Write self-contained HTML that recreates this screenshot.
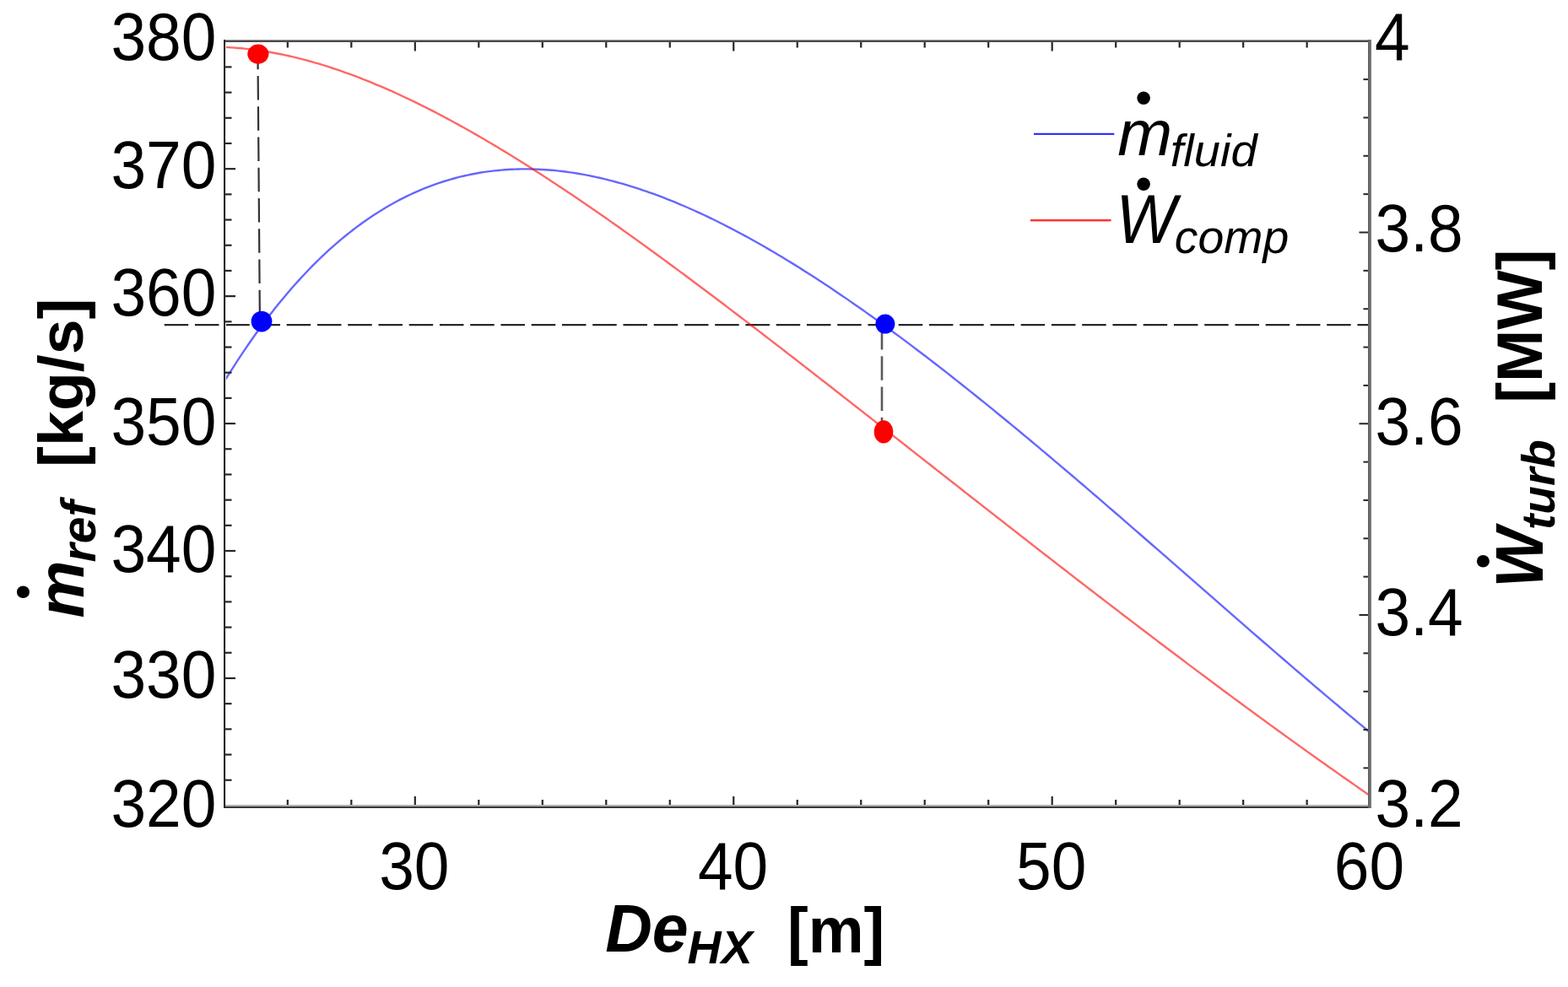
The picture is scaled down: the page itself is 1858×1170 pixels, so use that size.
<!DOCTYPE html>
<html><head><meta charset="utf-8"><title>Plot</title>
<style>
html,body{margin:0;padding:0;background:#fff;}
body{width:1858px;height:1170px;overflow:hidden;}
svg{display:block;}
text{font-family:'Liberation Sans', Arial, Helvetica, sans-serif;fill:#000;}
</style></head><body>
<svg width="1858" height="1170" viewBox="0 0 1858 1170">
<rect x="0" y="0" width="1858" height="1170" fill="#fff"/>

<g fill="none" stroke-dasharray="28.5 7.75">
<line x1="194.7" y1="385" x2="1622" y2="385" stroke="#262626" stroke-width="2"/>
<line x1="194.7" y1="386.5" x2="1622" y2="386.5" stroke="#cccccc" stroke-width="1"/>
<line x1="305.4" y1="53.7" x2="307.9" y2="381" stroke="#333" stroke-width="2.2"/>
<line x1="1045" y1="385.9" x2="1045" y2="512" stroke="#5a5a5a" stroke-width="2.6"/>
</g>
<path d="M266.0,451.98 L270.0,445.49 L274.0,439.11 L278.0,432.83 L282.0,426.65 L286.0,420.58 L290.0,414.61 L294.0,408.74 L298.0,402.97 L302.0,397.30 L306.0,391.74 L310.0,386.27 L314.0,380.89 L318.0,375.62 L322.0,370.43 L326.0,365.35 L330.0,360.36 L334.0,355.46 L338.0,350.65 L342.0,345.94 L346.0,341.31 L350.0,336.78 L354.0,332.33 L358.0,327.98 L362.0,323.71 L366.0,319.52 L370.0,315.43 L374.0,311.41 L378.0,307.49 L382.0,303.64 L386.0,299.88 L390.0,296.21 L394.0,292.61 L398.0,289.09 L402.0,285.66 L406.0,282.30 L410.0,279.02 L414.0,275.82 L418.0,272.70 L422.0,269.65 L426.0,266.68 L430.0,263.78 L434.0,260.96 L438.0,258.21 L442.0,255.53 L446.0,252.93 L450.0,250.40 L454.0,247.94 L458.0,245.54 L462.0,243.22 L466.0,240.97 L470.0,238.78 L474.0,236.67 L478.0,234.62 L482.0,232.63 L486.0,230.72 L490.0,228.86 L494.0,227.07 L498.0,225.35 L502.0,223.69 L506.0,222.09 L510.0,220.55 L514.0,219.08 L518.0,217.66 L522.0,216.31 L526.0,215.01 L530.0,213.78 L534.0,212.60 L538.0,211.48 L542.0,210.42 L546.0,209.41 L550.0,208.46 L554.0,207.57 L558.0,206.73 L562.0,205.95 L566.0,205.22 L570.0,204.54 L574.0,203.92 L578.0,203.35 L582.0,202.83 L586.0,202.36 L590.0,201.95 L594.0,201.58 L598.0,201.26 L602.0,201.00 L606.0,200.78 L610.0,200.61 L614.0,200.49 L618.0,200.41 L622.0,200.38 L626.0,200.40 L630.0,200.47 L634.0,200.58 L638.0,200.73 L642.0,200.93 L646.0,201.18 L650.0,201.47 L654.0,201.80 L658.0,202.17 L662.0,202.59 L666.0,203.04 L670.0,203.54 L674.0,204.08 L678.0,204.67 L682.0,205.29 L686.0,205.95 L690.0,206.65 L694.0,207.39 L698.0,208.16 L702.0,208.98 L706.0,209.83 L710.0,210.72 L714.0,211.65 L718.0,212.61 L722.0,213.61 L726.0,214.65 L730.0,215.72 L734.0,216.83 L738.0,217.97 L742.0,219.14 L746.0,220.35 L750.0,221.59 L754.0,222.87 L758.0,224.18 L762.0,225.52 L766.0,226.89 L770.0,228.29 L774.0,229.73 L778.0,231.19 L782.0,232.69 L786.0,234.22 L790.0,235.77 L794.0,237.36 L798.0,238.98 L802.0,240.62 L806.0,242.29 L810.0,244.00 L814.0,245.73 L818.0,247.48 L822.0,249.27 L826.0,251.08 L830.0,252.92 L834.0,254.78 L838.0,256.68 L842.0,258.59 L846.0,260.54 L850.0,262.50 L854.0,264.50 L858.0,266.51 L862.0,268.56 L866.0,270.62 L870.0,272.71 L874.0,274.83 L878.0,276.96 L882.0,279.12 L886.0,281.31 L890.0,283.51 L894.0,285.74 L898.0,287.99 L902.0,290.26 L906.0,292.55 L910.0,294.87 L914.0,297.20 L918.0,299.56 L922.0,301.93 L926.0,304.33 L930.0,306.75 L934.0,309.18 L938.0,311.64 L942.0,314.11 L946.0,316.60 L950.0,319.12 L954.0,321.65 L958.0,324.20 L962.0,326.76 L966.0,329.35 L970.0,331.95 L974.0,334.57 L978.0,337.21 L982.0,339.86 L986.0,342.54 L990.0,345.22 L994.0,347.93 L998.0,350.65 L1002.0,353.38 L1006.0,356.13 L1010.0,358.90 L1014.0,361.68 L1018.0,364.48 L1022.0,367.30 L1026.0,370.12 L1030.0,372.96 L1034.0,375.82 L1038.0,378.69 L1042.0,381.58 L1046.0,384.47 L1050.0,387.39 L1054.0,390.31 L1058.0,393.25 L1062.0,396.20 L1066.0,399.16 L1070.0,402.14 L1074.0,405.13 L1078.0,408.13 L1082.0,411.15 L1086.0,414.17 L1090.0,417.21 L1094.0,420.26 L1098.0,423.32 L1102.0,426.39 L1106.0,429.47 L1110.0,432.57 L1114.0,435.67 L1118.0,438.79 L1122.0,441.91 L1126.0,445.05 L1130.0,448.20 L1134.0,451.35 L1138.0,454.52 L1142.0,457.70 L1146.0,460.88 L1150.0,464.08 L1154.0,467.28 L1158.0,470.49 L1162.0,473.71 L1166.0,476.94 L1170.0,480.18 L1174.0,483.43 L1178.0,486.69 L1182.0,489.95 L1186.0,493.22 L1190.0,496.50 L1194.0,499.79 L1198.0,503.09 L1202.0,506.39 L1206.0,509.70 L1210.0,513.01 L1214.0,516.34 L1218.0,519.67 L1222.0,523.01 L1226.0,526.35 L1230.0,529.70 L1234.0,533.06 L1238.0,536.42 L1242.0,539.79 L1246.0,543.17 L1250.0,546.55 L1254.0,549.93 L1258.0,553.32 L1262.0,556.72 L1266.0,560.12 L1270.0,563.53 L1274.0,566.94 L1278.0,570.36 L1282.0,573.78 L1286.0,577.21 L1290.0,580.64 L1294.0,584.07 L1298.0,587.51 L1302.0,590.95 L1306.0,594.40 L1310.0,597.85 L1314.0,601.31 L1318.0,604.76 L1322.0,608.22 L1326.0,611.69 L1330.0,615.16 L1334.0,618.63 L1338.0,622.10 L1342.0,625.57 L1346.0,629.05 L1350.0,632.53 L1354.0,636.01 L1358.0,639.50 L1362.0,642.99 L1366.0,646.47 L1370.0,649.96 L1374.0,653.46 L1378.0,656.95 L1382.0,660.44 L1386.0,663.94 L1390.0,667.44 L1394.0,670.93 L1398.0,674.43 L1402.0,677.93 L1406.0,681.43 L1410.0,684.93 L1414.0,688.43 L1418.0,691.93 L1422.0,695.43 L1426.0,698.93 L1430.0,702.43 L1434.0,705.93 L1438.0,709.43 L1442.0,712.92 L1446.0,716.42 L1450.0,719.92 L1454.0,723.41 L1458.0,726.90 L1462.0,730.40 L1466.0,733.89 L1470.0,737.37 L1474.0,740.86 L1478.0,744.34 L1482.0,747.83 L1486.0,751.30 L1490.0,754.78 L1494.0,758.26 L1498.0,761.73 L1502.0,765.19 L1506.0,768.66 L1510.0,772.12 L1514.0,775.58 L1518.0,779.03 L1522.0,782.48 L1526.0,785.93 L1530.0,789.37 L1534.0,792.81 L1538.0,796.25 L1542.0,799.68 L1546.0,803.10 L1550.0,806.52 L1554.0,809.93 L1558.0,813.34 L1562.0,816.75 L1566.0,820.14 L1570.0,823.54 L1574.0,826.92 L1578.0,830.30 L1582.0,833.68 L1586.0,837.04 L1590.0,840.40 L1594.0,843.76 L1598.0,847.10 L1602.0,850.44 L1606.0,853.77 L1610.0,857.10 L1614.0,860.41 L1618.0,863.72 L1622.0,867.02 L1623.0,867.84" fill="none" stroke="#0000ff" stroke-width="2.4" stroke-opacity="0.6"/>
<path d="M266.0,55.94 L270.0,56.13 L274.0,56.35 L278.0,56.62 L282.0,56.93 L286.0,57.29 L290.0,57.68 L294.0,58.11 L298.0,58.59 L302.0,59.10 L306.0,59.65 L310.0,60.24 L314.0,60.86 L318.0,61.53 L322.0,62.23 L326.0,62.97 L330.0,63.74 L334.0,64.55 L338.0,65.40 L342.0,66.28 L346.0,67.20 L350.0,68.15 L354.0,69.13 L358.0,70.15 L362.0,71.20 L366.0,72.28 L370.0,73.40 L374.0,74.54 L378.0,75.72 L382.0,76.94 L386.0,78.18 L390.0,79.45 L394.0,80.75 L398.0,82.08 L402.0,83.45 L406.0,84.84 L410.0,86.26 L414.0,87.70 L418.0,89.18 L422.0,90.68 L426.0,92.21 L430.0,93.77 L434.0,95.36 L438.0,96.97 L442.0,98.61 L446.0,100.27 L450.0,101.96 L454.0,103.67 L458.0,105.41 L462.0,107.18 L466.0,108.96 L470.0,110.77 L474.0,112.61 L478.0,114.47 L482.0,116.35 L486.0,118.25 L490.0,120.18 L494.0,122.13 L498.0,124.10 L502.0,126.09 L506.0,128.10 L510.0,130.14 L514.0,132.19 L518.0,134.27 L522.0,136.36 L526.0,138.48 L530.0,140.61 L534.0,142.76 L538.0,144.94 L542.0,147.13 L546.0,149.34 L550.0,151.57 L554.0,153.81 L558.0,156.08 L562.0,158.36 L566.0,160.66 L570.0,162.98 L574.0,165.31 L578.0,167.66 L582.0,170.02 L586.0,172.40 L590.0,174.80 L594.0,177.22 L598.0,179.64 L602.0,182.09 L606.0,184.55 L610.0,187.02 L614.0,189.51 L618.0,192.01 L622.0,194.52 L626.0,197.05 L630.0,199.60 L634.0,202.15 L638.0,204.72 L642.0,207.31 L646.0,209.90 L650.0,212.51 L654.0,215.13 L658.0,217.76 L662.0,220.41 L666.0,223.06 L670.0,225.73 L674.0,228.41 L678.0,231.10 L682.0,233.80 L686.0,236.52 L690.0,239.24 L694.0,241.97 L698.0,244.72 L702.0,247.47 L706.0,250.23 L710.0,253.01 L714.0,255.79 L718.0,258.58 L722.0,261.39 L726.0,264.20 L730.0,267.02 L734.0,269.85 L738.0,272.68 L742.0,275.53 L746.0,278.38 L750.0,281.24 L754.0,284.11 L758.0,286.99 L762.0,289.88 L766.0,292.77 L770.0,295.67 L774.0,298.58 L778.0,301.50 L782.0,304.42 L786.0,307.35 L790.0,310.28 L794.0,313.22 L798.0,316.17 L802.0,319.13 L806.0,322.09 L810.0,325.05 L814.0,328.03 L818.0,331.00 L822.0,333.99 L826.0,336.98 L830.0,339.97 L834.0,342.97 L838.0,345.98 L842.0,348.99 L846.0,352.00 L850.0,355.02 L854.0,358.05 L858.0,361.08 L862.0,364.11 L866.0,367.15 L870.0,370.19 L874.0,373.24 L878.0,376.29 L882.0,379.34 L886.0,382.40 L890.0,385.46 L894.0,388.53 L898.0,391.60 L902.0,394.67 L906.0,397.75 L910.0,400.83 L914.0,403.91 L918.0,406.99 L922.0,410.08 L926.0,413.17 L930.0,416.27 L934.0,419.36 L938.0,422.46 L942.0,425.56 L946.0,428.67 L950.0,431.77 L954.0,434.88 L958.0,437.99 L962.0,441.10 L966.0,444.22 L970.0,447.33 L974.0,450.45 L978.0,453.57 L982.0,456.70 L986.0,459.82 L990.0,462.94 L994.0,466.07 L998.0,469.20 L1002.0,472.33 L1006.0,475.46 L1010.0,478.59 L1014.0,481.72 L1018.0,484.86 L1022.0,487.99 L1026.0,491.13 L1030.0,494.26 L1034.0,497.40 L1038.0,500.54 L1042.0,503.68 L1046.0,506.82 L1050.0,509.96 L1054.0,513.10 L1058.0,516.24 L1062.0,519.38 L1066.0,522.52 L1070.0,525.66 L1074.0,528.81 L1078.0,531.95 L1082.0,535.09 L1086.0,538.23 L1090.0,541.38 L1094.0,544.52 L1098.0,547.66 L1102.0,550.80 L1106.0,553.94 L1110.0,557.09 L1114.0,560.23 L1118.0,563.37 L1122.0,566.51 L1126.0,569.65 L1130.0,572.79 L1134.0,575.93 L1138.0,579.06 L1142.0,582.20 L1146.0,585.34 L1150.0,588.48 L1154.0,591.61 L1158.0,594.75 L1162.0,597.88 L1166.0,601.01 L1170.0,604.14 L1174.0,607.27 L1178.0,610.40 L1182.0,613.53 L1186.0,616.66 L1190.0,619.79 L1194.0,622.91 L1198.0,626.04 L1202.0,629.16 L1206.0,632.28 L1210.0,635.40 L1214.0,638.52 L1218.0,641.64 L1222.0,644.75 L1226.0,647.87 L1230.0,650.98 L1234.0,654.09 L1238.0,657.20 L1242.0,660.31 L1246.0,663.41 L1250.0,666.52 L1254.0,669.62 L1258.0,672.72 L1262.0,675.82 L1266.0,678.92 L1270.0,682.01 L1274.0,685.10 L1278.0,688.20 L1282.0,691.28 L1286.0,694.37 L1290.0,697.46 L1294.0,700.54 L1298.0,703.62 L1302.0,706.70 L1306.0,709.77 L1310.0,712.85 L1314.0,715.92 L1318.0,718.99 L1322.0,722.05 L1326.0,725.12 L1330.0,728.18 L1334.0,731.24 L1338.0,734.30 L1342.0,737.35 L1346.0,740.40 L1350.0,743.45 L1354.0,746.50 L1358.0,749.54 L1362.0,752.58 L1366.0,755.62 L1370.0,758.66 L1374.0,761.69 L1378.0,764.72 L1382.0,767.74 L1386.0,770.77 L1390.0,773.79 L1394.0,776.80 L1398.0,779.82 L1402.0,782.83 L1406.0,785.84 L1410.0,788.84 L1414.0,791.84 L1418.0,794.84 L1422.0,797.84 L1426.0,800.83 L1430.0,803.81 L1434.0,806.80 L1438.0,809.78 L1442.0,812.76 L1446.0,815.73 L1450.0,818.70 L1454.0,821.67 L1458.0,824.63 L1462.0,827.59 L1466.0,830.54 L1470.0,833.49 L1474.0,836.44 L1478.0,839.38 L1482.0,842.32 L1486.0,845.26 L1490.0,848.19 L1494.0,851.11 L1498.0,854.04 L1502.0,856.95 L1506.0,859.87 L1510.0,862.78 L1514.0,865.68 L1518.0,868.58 L1522.0,871.48 L1526.0,874.37 L1530.0,877.25 L1534.0,880.13 L1538.0,883.01 L1542.0,885.88 L1546.0,888.75 L1550.0,891.61 L1554.0,894.47 L1558.0,897.32 L1562.0,900.17 L1566.0,903.01 L1570.0,905.84 L1574.0,908.67 L1578.0,911.50 L1582.0,914.32 L1586.0,917.13 L1590.0,919.94 L1594.0,922.74 L1598.0,925.54 L1602.0,928.33 L1606.0,931.12 L1610.0,933.90 L1614.0,936.67 L1618.0,939.44 L1622.0,942.20 L1623.0,942.89" fill="none" stroke="#ff0000" stroke-width="2.4" stroke-opacity="0.6"/>
<rect x="265" y="47" width="1358" height="1" fill="#999"/>
<rect x="265" y="48" width="1358" height="2" fill="#4a4a4a"/>
<rect x="265" y="954" width="1358" height="2" fill="#b0b0b0"/>
<rect x="265" y="956" width="1360" height="2" fill="#383838"/>
<rect x="265" y="47" width="2" height="911" fill="#262626"/>
<rect x="267" y="50" width="1" height="904" fill="#ececec"/>
<rect x="1621" y="47" width="2" height="911" fill="#646464"/>
<rect x="1623" y="47" width="2" height="911" fill="#787878"/>
<g stroke="#262626" stroke-width="2.2" fill="none">
<line x1="340.82" y1="954" x2="340.82" y2="948"/>
<line x1="340.82" y1="50" x2="340.82" y2="56.5"/>
<line x1="416.31" y1="954" x2="416.31" y2="948"/>
<line x1="416.31" y1="50" x2="416.31" y2="56.5"/>
<line x1="491.80" y1="954" x2="491.80" y2="944"/>
<line x1="491.80" y1="50" x2="491.80" y2="60.5"/>
<line x1="567.29" y1="954" x2="567.29" y2="948"/>
<line x1="567.29" y1="50" x2="567.29" y2="56.5"/>
<line x1="642.78" y1="954" x2="642.78" y2="948"/>
<line x1="642.78" y1="50" x2="642.78" y2="56.5"/>
<line x1="718.27" y1="954" x2="718.27" y2="948"/>
<line x1="718.27" y1="50" x2="718.27" y2="56.5"/>
<line x1="793.76" y1="954" x2="793.76" y2="948"/>
<line x1="793.76" y1="50" x2="793.76" y2="56.5"/>
<line x1="869.25" y1="954" x2="869.25" y2="944"/>
<line x1="869.25" y1="50" x2="869.25" y2="60.5"/>
<line x1="944.74" y1="954" x2="944.74" y2="948"/>
<line x1="944.74" y1="50" x2="944.74" y2="56.5"/>
<line x1="1020.23" y1="954" x2="1020.23" y2="948"/>
<line x1="1020.23" y1="50" x2="1020.23" y2="56.5"/>
<line x1="1095.72" y1="954" x2="1095.72" y2="948"/>
<line x1="1095.72" y1="50" x2="1095.72" y2="56.5"/>
<line x1="1171.21" y1="954" x2="1171.21" y2="948"/>
<line x1="1171.21" y1="50" x2="1171.21" y2="56.5"/>
<line x1="1246.70" y1="954" x2="1246.70" y2="944"/>
<line x1="1246.70" y1="50" x2="1246.70" y2="60.5"/>
<line x1="1322.19" y1="954" x2="1322.19" y2="948"/>
<line x1="1322.19" y1="50" x2="1322.19" y2="56.5"/>
<line x1="1397.68" y1="954" x2="1397.68" y2="948"/>
<line x1="1397.68" y1="50" x2="1397.68" y2="56.5"/>
<line x1="1473.17" y1="954" x2="1473.17" y2="948"/>
<line x1="1473.17" y1="50" x2="1473.17" y2="56.5"/>
<line x1="1548.66" y1="954" x2="1548.66" y2="948"/>
<line x1="1548.66" y1="50" x2="1548.66" y2="56.5"/>
<line x1="267" y1="924.73" x2="274.5" y2="924.73"/>
<line x1="267" y1="894.54" x2="274.5" y2="894.54"/>
<line x1="267" y1="864.35" x2="274.5" y2="864.35"/>
<line x1="267" y1="834.16" x2="274.5" y2="834.16"/>
<line x1="267" y1="803.97" x2="279" y2="803.97"/>
<line x1="267" y1="773.78" x2="274.5" y2="773.78"/>
<line x1="267" y1="743.59" x2="274.5" y2="743.59"/>
<line x1="267" y1="713.40" x2="274.5" y2="713.40"/>
<line x1="267" y1="683.21" x2="274.5" y2="683.21"/>
<line x1="267" y1="653.02" x2="279" y2="653.02"/>
<line x1="267" y1="622.83" x2="274.5" y2="622.83"/>
<line x1="267" y1="592.64" x2="274.5" y2="592.64"/>
<line x1="267" y1="562.45" x2="274.5" y2="562.45"/>
<line x1="267" y1="532.26" x2="274.5" y2="532.26"/>
<line x1="267" y1="502.07" x2="279" y2="502.07"/>
<line x1="267" y1="471.88" x2="274.5" y2="471.88"/>
<line x1="267" y1="441.69" x2="274.5" y2="441.69"/>
<line x1="267" y1="411.50" x2="274.5" y2="411.50"/>
<line x1="267" y1="381.31" x2="274.5" y2="381.31"/>
<line x1="267" y1="351.12" x2="279" y2="351.12"/>
<line x1="267" y1="320.93" x2="274.5" y2="320.93"/>
<line x1="267" y1="290.74" x2="274.5" y2="290.74"/>
<line x1="267" y1="260.55" x2="274.5" y2="260.55"/>
<line x1="267" y1="230.36" x2="274.5" y2="230.36"/>
<line x1="267" y1="200.17" x2="279" y2="200.17"/>
<line x1="267" y1="169.98" x2="274.5" y2="169.98"/>
<line x1="267" y1="139.79" x2="274.5" y2="139.79"/>
<line x1="267" y1="109.60" x2="274.5" y2="109.60"/>
<line x1="267" y1="79.41" x2="274.5" y2="79.41"/>
</g>
<g stroke="#262626" stroke-width="2" fill="none">
<line x1="1621" y1="94.10" x2="1615.5" y2="94.10"/>
<line x1="1621" y1="139.45" x2="1615.5" y2="139.45"/>
<line x1="1621" y1="184.80" x2="1615.5" y2="184.80"/>
<line x1="1621" y1="230.15" x2="1615.5" y2="230.15"/>
<line x1="1621" y1="275.50" x2="1610.5" y2="275.50"/>
<line x1="1621" y1="320.85" x2="1615.5" y2="320.85"/>
<line x1="1621" y1="366.20" x2="1615.5" y2="366.20"/>
<line x1="1621" y1="411.55" x2="1615.5" y2="411.55"/>
<line x1="1621" y1="456.90" x2="1615.5" y2="456.90"/>
<line x1="1621" y1="502.25" x2="1610.5" y2="502.25"/>
<line x1="1621" y1="547.60" x2="1615.5" y2="547.60"/>
<line x1="1621" y1="592.95" x2="1615.5" y2="592.95"/>
<line x1="1621" y1="638.30" x2="1615.5" y2="638.30"/>
<line x1="1621" y1="683.65" x2="1615.5" y2="683.65"/>
<line x1="1621" y1="729.00" x2="1610.5" y2="729.00"/>
<line x1="1621" y1="774.35" x2="1615.5" y2="774.35"/>
<line x1="1621" y1="819.70" x2="1615.5" y2="819.70"/>
<line x1="1621" y1="865.05" x2="1615.5" y2="865.05"/>
<line x1="1621" y1="910.40" x2="1615.5" y2="910.40"/>
</g>
<ellipse cx="305.85" cy="64.05" rx="12.6" ry="11.5" fill="#ff0000"/>
<ellipse cx="310" cy="381.1" rx="12.4" ry="12.4" fill="#0000ff"/>
<ellipse cx="1048.9" cy="384.05" rx="11.5" ry="11.5" fill="#0000ff"/>
<ellipse cx="1047" cy="511.9" rx="11.3" ry="13.6" fill="#ff0000"/>
<rect x="1225" y="157" width="95.3" height="1" fill="#ccccff"/>
<rect x="1225" y="158" width="95.3" height="1.9" fill="#2828ff"/>
<rect x="1221" y="260" width="95.6" height="2" fill="#ff3030"/>
<rect x="1221" y="262" width="95.6" height="1" fill="#ffb0b0"/>
<text transform="translate(256.40,71.10) scale(0.9475,1)" font-size="79.03" text-anchor="end">380</text>
<text transform="translate(256.40,223.40) scale(0.9475,1)" font-size="79.03" text-anchor="end">370</text>
<text transform="translate(256.40,374.30) scale(0.9475,1)" font-size="79.03" text-anchor="end">360</text>
<text transform="translate(256.40,526.50) scale(0.9475,1)" font-size="79.03" text-anchor="end">350</text>
<text transform="translate(256.40,677.50) scale(0.9475,1)" font-size="79.03" text-anchor="end">340</text>
<text transform="translate(256.40,827.20) scale(0.9475,1)" font-size="79.03" text-anchor="end">330</text>
<text transform="translate(256.40,979.90) scale(0.9475,1)" font-size="79.03" text-anchor="end">320</text>
<text transform="translate(1628.90,70.90) scale(0.9475,1)" font-size="79.03">4</text>
<text transform="translate(1629.60,298.00) scale(0.9475,1)" font-size="79.03">3.8</text>
<text transform="translate(1629.60,526.70) scale(0.9475,1)" font-size="79.03">3.6</text>
<text transform="translate(1629.60,753.30) scale(0.9475,1)" font-size="79.03">3.4</text>
<text transform="translate(1629.60,979.50) scale(0.9475,1)" font-size="79.03">3.2</text>
<text transform="translate(490.85,1054.00) scale(0.9475,1)" font-size="79.03" text-anchor="middle">30</text>
<text transform="translate(868.55,1054.00) scale(0.9475,1)" font-size="79.03" text-anchor="middle">40</text>
<text transform="translate(1245.75,1054.00) scale(0.9475,1)" font-size="79.03" text-anchor="middle">50</text>
<text transform="translate(1622.45,1054.00) scale(0.9475,1)" font-size="79.03" text-anchor="middle">60</text>
<text transform="translate(1324.29,184.27) scale(1.0236,1)" font-size="76.17" font-style="italic">m</text>
<text transform="translate(1386.75,197.47) scale(1.0352,1)" font-size="54.14" font-style="italic">fluid</text>
<text transform="translate(1322.50,288.04) scale(0.9368,1)" font-size="80.73" font-style="italic">W</text>
<text transform="translate(1391.80,299.54) scale(1.0039,1)" font-size="55.21" font-style="italic">comp</text>
<text transform="translate(1345.07,134.97) scale(0.9990,1)" font-size="57.95">•</text>
<text transform="translate(1345.07,237.37) scale(0.9990,1)" font-size="57.95">•</text>
<text transform="translate(717.18,1128.40) scale(0.9761,1)" font-size="78.85" font-weight="bold" font-style="italic">De</text>
<text transform="translate(814.62,1142.40) scale(0.9829,1)" font-size="56.43" font-weight="bold" font-style="italic">HX</text>
<text transform="translate(932.98,1128.70) scale(0.9834,1)" font-size="75.37" font-weight="bold">[m]</text>
<text transform="translate(98.70,732.39) rotate(-90) scale(0.9889,1)" font-size="77.26" font-weight="bold" font-style="italic">m</text>
<text transform="translate(113.09,666.38) rotate(-90) scale(0.9917,1)" font-size="57.50" font-weight="bold" font-style="italic">ref</text>
<text transform="translate(98.10,553.91) rotate(-90) scale(1.0116,1)" font-size="74.30" font-weight="bold">[kg/s]</text>
<text transform="translate(46.33,711.13) rotate(-90) scale(0.9779,1)" font-size="55.59">•</text>
<text transform="translate(1827.70,696.84) rotate(-90) scale(0.9516,1)" font-size="79.57" font-weight="bold" font-style="italic">W</text>
<text transform="translate(1842.40,627.98) rotate(-90) scale(0.9841,1)" font-size="55.86" font-weight="bold" font-style="italic">turb</text>
<text transform="translate(1827.30,477.78) rotate(-90) scale(0.9787,1)" font-size="76.23" font-weight="bold">[MW]</text>
<text transform="translate(1776.12,674.87) rotate(-90) scale(0.9779,1)" font-size="55.59">•</text>
</svg>
</body></html>
